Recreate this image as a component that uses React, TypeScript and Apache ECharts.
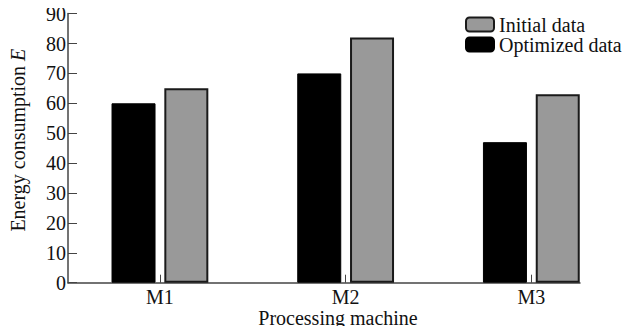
import React, { useEffect, useRef } from "react";
import * as echarts from "echarts";

const categories = ["M1", "M2", "M3"];
const optimizedData = [60, 70, 47];
const initialData = [65, 82, 63];
const yTicks = [0, 10, 20, 30, 40, 50, 60, 70, 80, 90];

const FONT = "Liberation Serif";
const FS = 20;

export default function App() {
  const ref = useRef<HTMLDivElement>(null);
  useEffect(() => {
    if (!ref.current) return;
    const chart = echarts.init(ref.current, null, { renderer: "svg" });
    const catIdx = categories.map((_, i) => i);
    chart.setOption({
      animation: false,
      backgroundColor: "#ffffff",
      title: {
        text: "Processing machine",
        left: 338,
        top: 308,
        padding: 0,
        textAlign: "center",
        textStyle: { fontFamily: FONT, fontSize: FS, lineHeight: 20, fontWeight: "normal", color: "#111" },
      },
      legend: {
        data: ["Initial data", "Optimized data"],
        orient: "vertical",
        left: 465,
        top: 14.5,
        padding: 0,
        itemWidth: 28,
        itemHeight: 14,
        itemGap: 0,
        textStyle: { fontFamily: FONT, fontSize: FS, lineHeight: 20, color: "#111" },
        selectedMode: false,
      },
      grid: { left: 63, right: 61, top: 13.6, bottom: 51.3 },
      xAxis: {
        type: "value",
        min: -0.495,
        max: 2.262,
        splitLine: { show: false },
        axisLine: { show: true, lineStyle: { color: "#444", width: 1.5 } },
        axisTick: {
          show: true,
          inside: true,
          length: 8,
          customValues: catIdx,
          lineStyle: { color: "#444", width: 1 },
        },
        axisLabel: {
          customValues: catIdx,
          formatter: (v: number) => categories[Math.round(v)] ?? "",
          fontFamily: FONT,
          fontSize: FS,
          lineHeight: 20,
          color: "#111",
          margin: 4,
        },
      },
      yAxis: {
        type: "value",
        min: 0,
        max: 90,
        interval: 10,
        splitLine: { show: false },
        axisLine: { show: true, onZero: false, lineStyle: { color: "#444", width: 1.5 } },
        axisTick: { show: true, inside: true, length: 9, lineStyle: { color: "#444", width: 1 } },
        axisLabel: {
          fontFamily: FONT,
          fontSize: FS,
          color: "#111",
          margin: 2,
          formatter: (v: number) => (yTicks.includes(v) ? String(v) : ""),
        },
        name: "Energy consumption {i|E}",
        nameLocation: "middle",
        nameGap: 40,
        nameTextStyle: {
          fontFamily: FONT,
          fontSize: FS,
          color: "#111",
          padding: [0, 0, 0, 16],
          rich: { i: { fontFamily: FONT, fontSize: FS, fontStyle: "italic", color: "#111" } },
        },
      },
      series: [
        {
          name: "Optimized data",
          type: "bar",
          barWidth: 44,
          barGap: "20%",
          data: optimizedData.map((v, i) => [i, v]),
          itemStyle: { color: "#000000", borderColor: "#000000", borderWidth: 1 },
        },
        {
          name: "Initial data",
          type: "bar",
          barWidth: 44,
          barGap: "20%",
          data: initialData.map((v, i) => [i, v]),
          itemStyle: { color: "#999999", borderColor: "#1a1a1a", borderWidth: 2 },
        },
      ],
    });
    return () => chart.dispose();
  }, []);
  return <div ref={ref} style={{ width: 641, height: 334, margin: -8 }} />;
}
